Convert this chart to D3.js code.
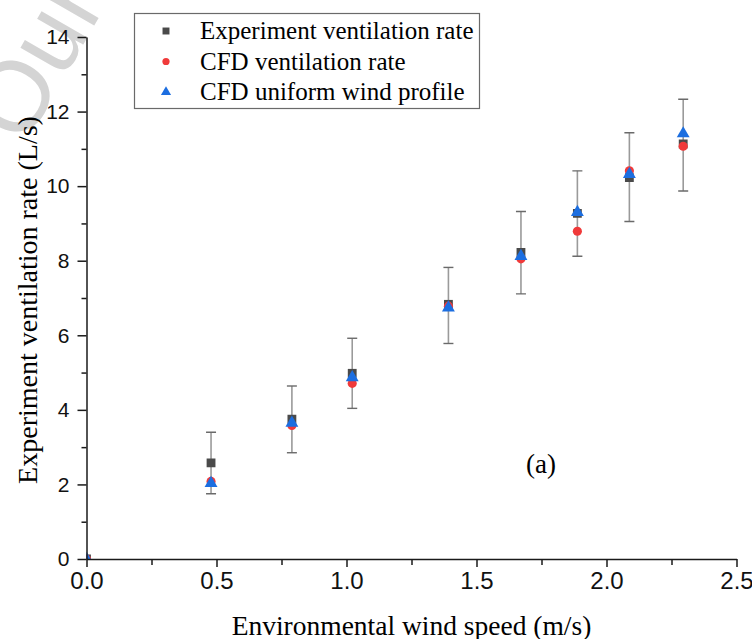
<!DOCTYPE html>
<html>
<head>
<meta charset="utf-8">
<script src="https://cdn.jsdelivr.net/npm/d3@7"></script>
<style>
  body { margin: 0; background: #fff; }
  svg { display: block; }
</style>
</head>
<body>
<svg id="chart" width="752" height="639"></svg>
<script>
// wind speed (m/s)
const windSpeed = [0, 0.479, 0.79, 1.022, 1.392, 1.671, 1.888, 2.088, 2.295];
// experiment ventilation rate (L/s) and error bar ends
const experiment = [0, 2.58, 3.75, 4.98, 6.83, 8.22, 9.27, 10.23, 11.13];
const errLow = [0, 1.75, 2.85, 4.04, 5.78, 7.11, 8.12, 9.05, 9.87];
const errHigh = [0, 3.40, 4.64, 5.92, 7.82, 9.32, 10.41, 11.43, 12.33];
// CFD results
const cfdRate = [0, 2.08, 3.58, 4.71, 6.78, 8.05, 8.79, 10.41, 11.07];
const cfdUniform = [0, 2.03, 3.65, 4.87, 6.74, 8.12, 9.30, 10.32, 11.41];

const xTicks = [0, 0.5, 1.0, 1.5, 2.0, 2.5];
const yTicks = [0, 2, 4, 6, 8, 10, 12, 14];

const legendNames = ["Experiment ventilation rate", "CFD ventilation rate", "CFD uniform wind profile"];

const svg = d3.select("#chart");
const margin = {left: 86.5, right: 15.5, top: 37, bottom: 80};
const width = 752 - margin.left - margin.right;
const height = 639 - margin.top - margin.bottom;

const x = d3.scaleLinear().domain([0, 2.5]).range([margin.left, margin.left + width]);
const y = d3.scaleLinear().domain([0, 14]).range([margin.top + height, margin.top]);

// watermark
svg.append("text")
    .attr("transform", "translate(24,147) rotate(-60)")
    .attr("font-family", "Liberation Sans, Arial, sans-serif")
    .attr("font-size", 100)
    .attr("fill", "#d4d4d4")
    .text("Our");

const series = [
    {name: legendNames[0], values: experiment, symbol: d3.symbolSquare, size: 78, color: "#4a4a4a"},
    {name: legendNames[1], values: cfdRate, symbol: d3.symbolCircle, size: 66, color: "#f03a3a"},
    {name: legendNames[2], values: cfdUniform, symbol: d3.symbolTriangle, size: 72, color: "#1c6ee0"}
];

svg.append("clipPath").attr("id", "plotclip")
    .append("rect")
    .attr("x", margin.left).attr("y", margin.top - 10)
    .attr("width", width + 10).attr("height", height + 10);

const plot = svg.append("g").attr("clip-path", "url(#plotclip)");

// error bars
const errData = windSpeed.map((w, i) => ({x: w, lo: errLow[i], hi: errHigh[i]})).filter(d => d.x > 0);
const eb = plot.selectAll(".err").data(errData).enter().append("g");
eb.append("line")
    .attr("x1", d => x(d.x)).attr("x2", d => x(d.x))
    .attr("y1", d => y(d.lo)).attr("y2", d => y(d.hi))
    .attr("stroke", "#9a9a9a").attr("stroke-width", 1.6);
["lo", "hi"].forEach(k => {
    eb.append("line")
        .attr("x1", d => x(d.x) - 5).attr("x2", d => x(d.x) + 5)
        .attr("y1", d => y(d[k])).attr("y2", d => y(d[k]))
        .attr("stroke", "#6a6a6a").attr("stroke-width", 1.4);
});

// markers
series.forEach(s => {
    plot.selectAll(null)
        .data(windSpeed.map((w, i) => ({x: w, v: s.values[i]})))
        .enter().append("path")
        .attr("d", d3.symbol().type(s.symbol).size(s.size))
        .attr("transform", d => "translate(" + x(d.x) + "," + y(d.v) + ")")
        .attr("fill", s.color);
});

// axes
svg.append("g")
    .attr("class", "xaxis")
    .attr("transform", "translate(0," + (margin.top + height) + ")")
    .call(d3.axisBottom(x).tickValues(xTicks).tickFormat(d3.format(".1f")).tickSize(8).tickPadding(5).tickSizeOuter(0));
svg.append("g")
    .attr("transform", "translate(0," + (margin.top + height) + ")")
    .call(d3.axisBottom(x).tickValues(d3.range(0.25, 2.5, 0.5)).tickFormat("").tickSize(6).tickSizeOuter(0))
    .select(".domain").remove();

svg.append("g")
    .attr("class", "yaxis")
    .attr("transform", "translate(" + margin.left + ",0)")
    .call(d3.axisLeft(y).tickValues(yTicks).tickSize(9).tickPadding(8).tickSizeOuter(0));
svg.append("g")
    .attr("transform", "translate(" + margin.left + ",0)")
    .call(d3.axisLeft(y).tickValues(d3.range(1, 14, 2)).tickFormat("").tickSize(5).tickSizeOuter(0))
    .select(".domain").remove();

svg.selectAll(".domain, .tick line").attr("stroke", "#1a1a1a").attr("stroke-width", 1.5);
svg.selectAll(".tick text")
    .attr("font-family", "Liberation Sans, Arial, sans-serif")
    .attr("fill", "#111");
svg.selectAll(".xaxis .tick text").attr("font-size", 24);
svg.selectAll(".yaxis .tick text").attr("font-size", 21);

// axis titles
svg.append("text")
    .attr("x", margin.left + width / 2).attr("y", 635)
    .attr("text-anchor", "middle")
    .attr("font-family", "Liberation Serif, Times New Roman, serif")
    .attr("font-size", 27.5)
    .text("Environmental wind speed (m/s)");

svg.append("text")
    .attr("transform", "translate(37," + (margin.top + height / 2 + 2) + ") rotate(-90)")
    .attr("text-anchor", "middle")
    .attr("font-family", "Liberation Serif, Times New Roman, serif")
    .attr("font-size", 28)
    .text("Experiment ventilation rate (L/s)");

svg.append("text")
    .attr("x", 541).attr("y", 473)
    .attr("text-anchor", "middle")
    .attr("font-family", "Liberation Serif, Times New Roman, serif")
    .attr("font-size", 27)
    .text("(a)");

// legend
const legend = svg.append("g");
legend.append("rect")
    .attr("x", 134.5).attr("y", 13.5).attr("width", 345).attr("height", 95)
    .attr("fill", "#fff").attr("stroke", "#6a6a6a").attr("stroke-width", 1.2);
series.forEach((s, i) => {
    const ly = 31 + i * 30.5;
    legend.append("path")
        .attr("d", d3.symbol().type(s.symbol).size(s.size * 0.62))
        .attr("transform", "translate(166," + ly + ")")
        .attr("fill", s.color);
    legend.append("text")
        .attr("x", 200).attr("y", ly + 8)
        .attr("font-family", "Liberation Serif, Times New Roman, serif")
        .attr("font-size", 25)
        .text(s.name);
});
</script>
</body>
</html>
